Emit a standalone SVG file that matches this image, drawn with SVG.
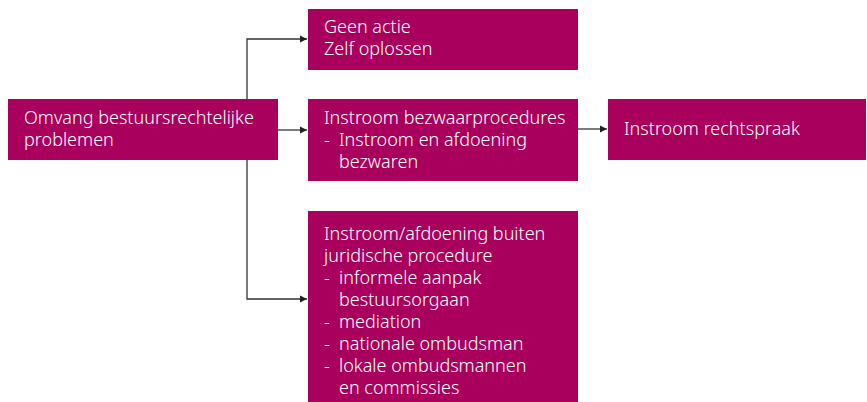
<svg xmlns="http://www.w3.org/2000/svg" width="867" height="402" viewBox="0 0 867 402">
<defs>
<marker id="ah" markerWidth="8" markerHeight="8" refX="7" refY="4" orient="auto" markerUnits="userSpaceOnUse"><path d="M0,0.5 L7,4 L0,7.5 z" fill="#222"/></marker>
</defs>
<style>
.box{fill:#A8005C}
.t{font-family:"Noto Sans",Lato,sans-serif;font-size:18px;font-weight:300;fill:#fff}
.c{fill:none;stroke:#333;stroke-width:1.3}
</style>
<rect width="867" height="402" fill="#fff"/>
<g id="connectors">
<path class="c" d="M247,99 V39 H307" marker-end="url(#ah)"/>
<path class="c" d="M278,130 H307" marker-end="url(#ah)"/>
<path class="c" d="M247,160 V299 H307" marker-end="url(#ah)"/>
<path class="c" d="M578,129 H607" marker-end="url(#ah)"/>
</g>
<g id="omvang">
<rect class="box" x="8" y="99" width="270" height="61"/>
<text class="t" x="24" y="124">Omvang bestuursrechtelijke</text>
<text class="t" x="24" y="146">problemen</text>
</g>
<g id="geen-actie">
<rect class="box" x="308" y="9" width="270" height="61"/>
<text class="t" x="324" y="33">Geen actie</text>
<text class="t" x="324" y="55">Zelf oplossen</text>
</g>
<g id="bezwaar">
<rect class="box" x="308" y="99" width="270" height="82"/>
<text class="t" x="324" y="124">Instroom bezwaarprocedures</text>
<text class="t" x="324" y="146">-</text>
<text class="t" x="339" y="146">Instroom en afdoening</text>
<text class="t" x="339" y="168">bezwaren</text>
</g>
<g id="rechtspraak">
<rect class="box" x="608" y="99" width="258" height="61"/>
<text class="t" x="624" y="135">Instroom rechtspraak</text>
</g>
<g id="buiten">
<rect class="box" x="308" y="211" width="270" height="191"/>
<text class="t" x="324" y="240">Instroom/afdoening buiten</text>
<text class="t" x="324" y="262">juridische procedure</text>
<text class="t" x="324" y="284">-</text><text class="t" x="339" y="284">informele aanpak</text>
<text class="t" x="339" y="306">bestuursorgaan</text>
<text class="t" x="324" y="328">-</text><text class="t" x="339" y="328">mediation</text>
<text class="t" x="324" y="350">-</text><text class="t" x="339" y="350">nationale ombudsman</text>
<text class="t" x="324" y="372">-</text><text class="t" x="339" y="372">lokale ombudsmannen</text>
<text class="t" x="339" y="394">en commissies</text>
</g>
</svg>
